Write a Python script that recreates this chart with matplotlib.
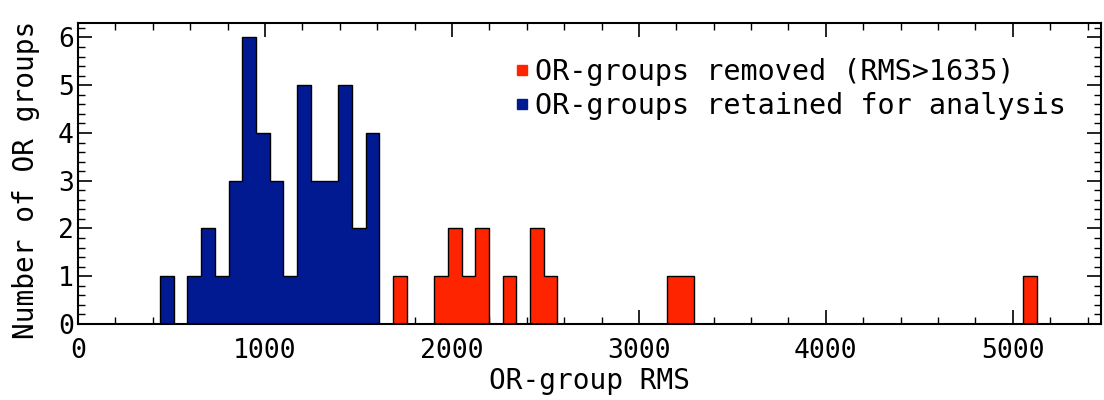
"""Histogram of OR-group RMS: removed vs retained groups."""
import numpy as np
import matplotlib

matplotlib.use("Agg")
import matplotlib.pyplot as plt
from matplotlib.lines import Line2D
from matplotlib.ticker import MultipleLocator

# histogram bins (64 equal bins)
bin_start = 438.5
bin_width = 73.3
n_bins = 64

# counts per bin, retained groups (bins 0-15)
retained_counts = [1, 0, 1, 2, 1, 3, 6, 4, 3, 1, 5, 3, 3, 5, 2, 4]
# removed groups: bin index -> count
removed_bins = [17, 20, 21, 22, 23, 25, 27, 28, 37, 38, 63]
removed_vals = [1, 1, 2, 1, 2, 1, 2, 1, 1, 1, 1]

threshold = 1635
label_removed = f"OR-groups removed (RMS>{threshold})"
label_retained = "OR-groups retained for analysis"

blue = "#021a91"
red = "#ff2400"

edges = bin_start + bin_width * np.arange(n_bins + 1)
keep = np.zeros(n_bins)
keep[:len(retained_counts)] = retained_counts
rem = np.zeros(n_bins)
rem[removed_bins] = removed_vals

plt.rcParams["font.family"] = ["DejaVu Sans Mono"]

fig = plt.figure(figsize=(11.04, 4), dpi=100)
ax = fig.add_axes([0.0707, 0.19, 0.9263, 0.7533])

ax.stairs(keep, edges, fill=True, color=blue, zorder=2)
ax.stairs(rem, edges, fill=True, color=red, zorder=2)
ax.stairs(keep + rem, edges, color="black", linewidth=1.0, zorder=3)

ax.set_xlim(0, 5470)
ax.set_ylim(0, 6.31)
ax.xaxis.set_major_locator(MultipleLocator(1000))
ax.xaxis.set_minor_locator(MultipleLocator(200))
ax.yaxis.set_major_locator(MultipleLocator(1))
ax.yaxis.set_minor_locator(MultipleLocator(0.2))
ax.tick_params(which="both", direction="in", top=True, right=True, labelsize=19)
ax.tick_params(which="major", length=10, width=1.2)
ax.tick_params(which="minor", length=5, width=1.0)
ax.tick_params(axis="x", pad=10)
ax.tick_params(axis="y", pad=3)
for s in ax.spines.values():
    s.set_linewidth(1.5)

ax.set_xlabel("OR-group RMS", fontsize=20, labelpad=2)
ax.set_ylabel("Number of OR groups", fontsize=20)
ax.yaxis.set_label_coords(-0.037, 0.478)

handles = [
    Line2D([], [], ls="none", marker="s", markersize=6.5, color=red),
    Line2D([], [], ls="none", marker="s", markersize=6.5, color=blue),
]
ax.legend(handles, [label_removed, label_retained], loc="upper right",
          bbox_to_anchor=(0.98, 0.93), frameon=False, fontsize=20.5,
          handlelength=0.4, handletextpad=0.25, labelspacing=0.2,
          borderpad=0)

fig.savefig("out.png", dpi=100)
